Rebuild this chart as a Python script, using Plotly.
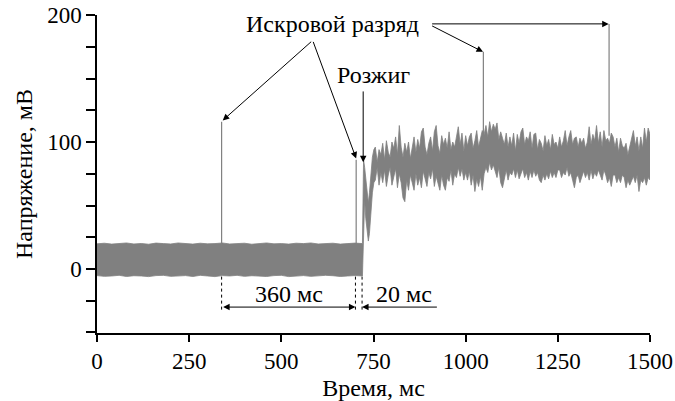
import plotly.graph_objects as go

# ---- signal envelope (min/max of the dense trace) ----
# before ignition: t = 0..720 ms, step 20 ms
t_pre = list(range(0, 721, 20))
hi_pre = [19.8, 20.3, 19.6, 20.0, 20.5, 19.7, 20.1, 19.5, 20.4, 20.0, 19.7, 20.5, 20.0, 19.6, 20.3, 19.8, 20.0, 20.5, 19.7,
          20.0, 20.3, 19.5, 20.0, 20.5, 19.8, 20.0, 19.6, 20.3, 20.0, 20.5, 19.7, 20.0, 20.3, 19.6, 20.0, 20.4, 20.0]
lo_pre = [-5.2, -5.8, -5.5, -5.0, -5.9, -5.3, -5.5, -6.0, -5.2, -5.0, -5.8, -5.5, -5.2, -5.9, -5.0, -5.5, -6.0, -5.2, -5.5,
          -5.0, -5.8, -5.3, -5.5, -5.9, -5.2, -5.0, -6.0, -5.5, -5.2, -5.8, -5.5, -5.0, -5.3, -5.9, -5.5, -5.2, -5.5]

# ignition transient
t_ign = [721, 723, 726, 729, 733, 736, 739, 743, 747, 751]
hi_ign = [70, 86, 80, 72, 62, 52, 60, 76, 88, 94]
lo_ign = [5, 40, 55, 40, 28, 22, 28, 45, 60, 68]

# after ignition: t = 755..1500 ms, step 5 ms
t_post = list(range(755, 1501, 5))
hi_post = [96, 84, 94, 90, 99, 86, 101, 92, 88, 100,
           95, 104, 90, 113, 96, 88, 99, 92, 100, 87,
           97, 104, 92, 102, 95, 108, 111, 96, 90, 99,
           104, 93, 108, 113, 97, 91, 105, 98, 103, 95,
           108, 94, 100, 96, 104, 112, 98, 107, 93, 105,
           97, 104, 107, 95, 101, 109, 96, 104, 109, 106,
           113, 104, 116, 108, 114, 110, 115, 102, 108, 103,
           98, 107, 96, 104, 97, 107, 93, 106, 99, 108,
           111, 98, 104, 101, 108, 95, 106, 107, 94, 102,
           99, 93, 105, 97, 102, 94, 106, 98, 100, 95,
           104, 96, 101, 109, 97, 104, 109, 98, 103, 104,
           96, 103, 99, 103, 95, 100, 112, 98, 106, 101,
           113, 99, 108, 96, 109, 101, 103, 99, 107, 104,
           96, 103, 92, 103, 97, 95, 99, 90, 96, 101,
           109, 97, 104, 93, 104, 95, 111, 100, 111, 106]
lo_post = [70, 80, 66, 76, 68, 78, 65, 74, 80, 66,
           72, 79, 64, 75, 68, 56, 53, 70, 62, 74,
           68, 62, 75, 66, 72, 64, 77, 70, 65, 76,
           71, 79, 65, 73, 68, 62, 74, 66, 62, 72,
           69, 78, 66, 75, 72, 80, 73, 79, 70, 76,
           70, 77, 66, 74, 61, 71, 65, 73, 62, 75,
           80, 76, 84, 78, 82, 76, 72, 80, 68, 64,
           72, 78, 70, 76, 74, 79, 72, 78, 71, 76,
           79, 72, 76, 70, 77, 72, 78, 73, 76, 70,
           68, 74, 70, 75, 71, 77, 72, 76, 72, 78,
           78, 72, 76, 74, 80, 73, 76, 70, 64, 72,
           74, 68, 72, 77, 72, 76, 70, 78, 71, 76,
           73, 78, 74, 70, 78, 74, 68, 72, 65, 74,
           74, 68, 72, 68, 74, 72, 64, 70, 66, 70,
           73, 68, 74, 61, 70, 68, 72, 66, 72, 70]

t_all = t_pre + t_ign + t_post
hi_all = hi_pre + hi_ign + hi_post
lo_all = lo_pre + lo_ign + lo_post

# spark-discharge spikes: time, base, peak
spike_t = [338, 703, 1048, 1389]
spike_base = [19, 18, 100, 105]
spike_peak = [116, 86, 171, 193]

# annotation anchors
ignition_t = 722
dash_t = [338, 701, 719]

GRAY = "#808080"
FONT = "Liberation Serif"
TXT = 24

fig = go.Figure()
fig.add_trace(go.Scatter(x=t_all, y=lo_all, mode="lines", line=dict(color=GRAY, width=0.8),
                         hoverinfo="skip", showlegend=False))
fig.add_trace(go.Scatter(x=t_all, y=hi_all, mode="lines", line=dict(color=GRAY, width=0.8),
                         fill="tonexty", fillcolor=GRAY, hoverinfo="skip", showlegend=False))

sx, sy = [], []
for t, b, p in zip(spike_t, spike_base, spike_peak):
    sx += [t, t, None]
    sy += [b, p, None]
fig.add_trace(go.Scatter(x=sx, y=sy, mode="lines", line=dict(color=GRAY, width=1.2),
                         hoverinfo="skip", showlegend=False))

# dashed markers below the band
for t in dash_t:
    fig.add_shape(type="line", x0=t, x1=t, y0=-6, y1=-34, xref="x", yref="y",
                  line=dict(color="black", width=1, dash="dot"))

arrow = dict(showarrow=True, arrowhead=2, arrowsize=1.3, arrowwidth=1, arrowcolor="black",
             xref="x", yref="y", axref="x", ayref="y", text="")

# "Искровой разряд"
fig.add_annotation(x=640, y=193, text="Искровой разряд", showarrow=False,
                   font=dict(family=FONT, size=TXT, color="black"))
fig.add_annotation(x=spike_t[0] + 3, y=117, ax=585, ay=180, **arrow)
fig.add_annotation(x=spike_t[1], y=87, ax=585, ay=180, **arrow)
fig.add_annotation(x=spike_t[2] - 1, y=171, ax=905, ay=192, **arrow)
fig.add_annotation(x=spike_t[3] - 1, y=193, ax=905, ay=193, **arrow)

# "Розжиг"
fig.add_annotation(x=751, y=153, text="Розжиг", showarrow=False,
                   font=dict(family=FONT, size=TXT, color="black"))
fig.add_annotation(x=ignition_t, y=84, ax=ignition_t, ay=141, **arrow)

# 360 ms / 20 ms
fig.add_annotation(x=dash_t[1], y=-30, ax=dash_t[0], ay=-30, arrowside="end+start",
                   startarrowhead=2, startarrowsize=1.3, **arrow)
fig.add_annotation(x=dash_t[2], y=-30, ax=926, ay=-30, **arrow)
fig.add_annotation(x=521, y=-20, text="360 мс", showarrow=False,
                   font=dict(family=FONT, size=TXT, color="black"))
fig.add_annotation(x=833, y=-20, text="20 мс", showarrow=False,
                   font=dict(family=FONT, size=TXT, color="black"))

fig.update_layout(
    width=675, height=401,
    margin=dict(l=97, r=25, t=15, b=68, autoexpand=False),
    paper_bgcolor="white", plot_bgcolor="white",
    font=dict(family=FONT, size=23, color="black"),
    showlegend=False,
)
fig.update_xaxes(range=[0, 1500], tickvals=[0, 250, 500, 750, 1000, 1250, 1500], automargin=False,
                 showline=True, linecolor="black", linewidth=1.5, mirror=False,
                 ticks="outside", ticklen=7, tickwidth=1.5, tickcolor="black",
                 showgrid=False, zeroline=False,
                 title=dict(text="Время, мс", font=dict(family=FONT, size=TXT), standoff=6))
fig.update_yaxes(range=[-50.4, 200], tickvals=[0, 100, 200], automargin=False,
                 showline=True, linecolor="black", linewidth=1.5,
                 ticks="outside", ticklen=9, tickwidth=1.5, tickcolor="black",
                 minor=dict(dtick=25, ticks="outside", ticklen=9, tickwidth=1.5, tickcolor="black"),
                 showgrid=False, zeroline=False,
                 title=dict(text="Напряжение, мВ", font=dict(family=FONT, size=TXT), standoff=8))

fig.write_html("out.html")
